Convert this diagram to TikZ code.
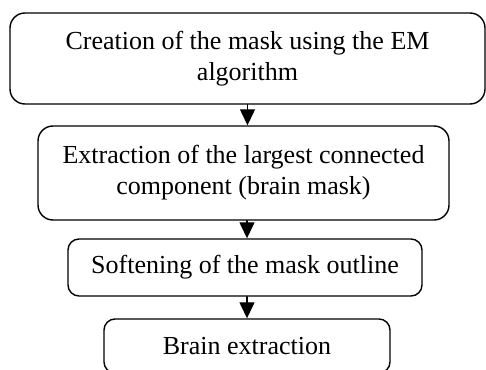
\documentclass[tikz,border=0pt]{standalone}
\usepackage{fontspec}
\setmainfont{Liberation Serif}
\usepackage{tikz}
\usetikzlibrary{arrows.meta}
\usetikzlibrary{positioning}

\tikzset{
  stepbox/.style={draw, line width=1.4pt, align=center, inner sep=0pt,
    font=\fontsize{26}{31}\selectfont},
  flowarrow/.style={line width=1.3pt, -{Triangle[length=16pt,width=15pt]}}
}

\begin{document}
\begin{tikzpicture}[x=1pt, y=-1pt, line cap=round, line join=round]
		\useasboundingbox (0,0) rectangle (486,369);
		\node[stepbox, rounded corners=15pt, minimum width=475pt, minimum height=91pt] (create) at (247.5,58.5)
			{Creation of the mask using the EM\\algorithm};
		\node[stepbox, rounded corners=15pt, minimum width=411pt, minimum height=94pt] (largest) at (243.5,173)
			{Extraction of the largest connected\\component (brain mask)};
		\node[stepbox, rounded corners=11pt, minimum width=354pt, minimum height=57pt] (soften) at (245,267.5)
			{Softening of the mask outline};
		\node[stepbox, rounded corners=11pt, minimum width=286pt, minimum height=54pt] (extract) at (247,346)
			{Brain extraction};
		\draw[flowarrow] (create.south) -- (create.south |- largest.north);
		\draw[flowarrow] (largest.south -| extract.north) -- (soften.north -| extract.north);
		\draw[flowarrow] (soften.south -| extract.north) -- (extract.north);
	\end{tikzpicture}
\end{document}
